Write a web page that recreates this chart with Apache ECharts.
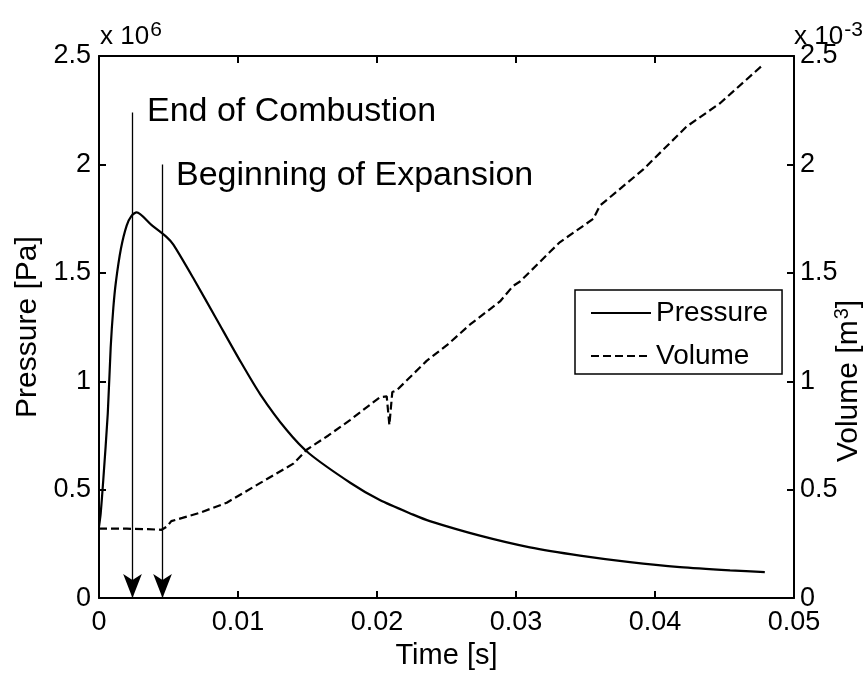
<!DOCTYPE html>
<html>
<head>
<meta charset="utf-8">
<script src="https://cdn.jsdelivr.net/npm/echarts@6/dist/echarts.min.js"></script>
<style>html,body{margin:0;padding:0;background:#fff}#c{width:866px;height:675px}</style>
</head>
<body>
<div id="c"></div>
<script>
// Time [s]
var pressureTime = [0, 0.00012, 0.00031, 0.00063, 0.00084, 0.00103, 0.00122, 0.00158, 0.00199, 0.00235, 0.00271,
  0.00379, 0.00487, 0.00535, 0.00679, 0.00847, 0.0101, 0.0116, 0.0135, 0.0151, 0.0181, 0.0202, 0.0226, 0.0238,
  0.0274, 0.031, 0.0346, 0.0382, 0.0418, 0.0454, 0.0479];
// Pressure [Pa] x 10^6
var pressureE6 = [0.33, 0.39, 0.547, 0.85, 1.155, 1.338, 1.46, 1.612, 1.718, 1.764, 1.779,
  1.72, 1.665, 1.63, 1.475, 1.285, 1.10, 0.94, 0.775, 0.668, 0.531, 0.452, 0.385, 0.355,
  0.288, 0.234, 0.196, 0.166, 0.143, 0.128, 0.120];
// Volume time [s]
var volumeTime = [0, 0.002, 0.0035, 0.0045, 0.0049, 0.0052, 0.006, 0.00727, 0.00919, 0.01158, 0.01398, 0.01494,
  0.0165, 0.01806, 0.02022, 0.0207, 0.02089, 0.0211, 0.02141, 0.02357, 0.0251, 0.0267, 0.02885, 0.0298, 0.03029,
  0.03245, 0.03317, 0.03556, 0.03604, 0.03916, 0.04228, 0.04468, 0.0478];
// Volume [m^3] x 10^-3
var volumeE3 = [0.32, 0.32, 0.318, 0.315, 0.33, 0.355, 0.37, 0.394, 0.44, 0.53, 0.62, 0.684,
  0.75, 0.821, 0.927, 0.93, 0.798, 0.95, 0.958, 1.094, 1.17, 1.262, 1.368, 1.44, 1.46,
  1.597, 1.642, 1.749, 1.81, 1.977, 2.175, 2.282, 2.461];
// Annotation arrows
var arrowTimes = [0.00241, 0.00457];
var arrowTops = [2.24, 2.0];
var arrowLabels = ['End of Combustion', 'Beginning of Expansion'];
var xTicks = {min: 0, max: 0.05, interval: 0.01};
var yTicks = {min: 0, max: 2.5, interval: 0.5};

function zip(a, b) { return a.map(function (v, i) { return [v, b[i]]; }); }

var FONT = '"Liberation Sans", Arial, sans-serif';
var chart = echarts.init(document.getElementById('c'));
var axisCommon = {
  type: 'value',
  axisLine: {show: true, onZero: false, lineStyle: {color: '#000', width: 2}},
  axisTick: {show: true, inside: true, length: 7, lineStyle: {color: '#000', width: 2}},
  splitLine: {show: false},
  axisLabel: {color: '#000', fontSize: 27, fontFamily: FONT}
};
var option = {
  animation: false,
  backgroundColor: '#fff',
  grid: {left: 99, right: 72, top: 56, bottom: 72, containLabel: false},
  xAxis: [
    Object.assign({}, axisCommon, {position: 'bottom', min: xTicks.min, max: xTicks.max, interval: xTicks.interval,
      axisLabel: Object.assign({}, axisCommon.axisLabel, {margin: 11}),
      name: 'Time [s]', nameLocation: 'middle', nameGap: 38,
      nameTextStyle: {color: '#000', fontSize: 29, fontFamily: FONT}}),
    Object.assign({}, axisCommon, {position: 'top', min: xTicks.min, max: xTicks.max, interval: xTicks.interval,
      axisLabel: {show: false}})
  ],
  yAxis: [
    Object.assign({}, axisCommon, {position: 'left', min: yTicks.min, max: yTicks.max, interval: yTicks.interval,
      axisLabel: Object.assign({}, axisCommon.axisLabel, {margin: 8}),
      name: 'Pressure [Pa]', nameLocation: 'middle', nameGap: 56,
      nameTextStyle: {color: '#000', fontSize: 30, fontFamily: FONT}}),
    Object.assign({}, axisCommon, {position: 'right', min: yTicks.min, max: yTicks.max, interval: yTicks.interval,
      axisLabel: Object.assign({}, axisCommon.axisLabel, {margin: 6})})
  ],
  legend: {
    data: ['Pressure', 'Volume'],
    orient: 'vertical', left: 575, top: 290,
    borderColor: '#000', borderWidth: 1.5, backgroundColor: '#fff',
    padding: [9, 14, 4, 15], itemGap: 15, itemWidth: 60, itemHeight: 14,
    itemStyle: {opacity: 0},
    textStyle: {color: '#000', fontSize: 28, fontFamily: FONT}
  },
  series: [
    {name: 'Pressure', type: 'line', xAxisIndex: 0, yAxisIndex: 0, symbol: 'none', smooth: 0.25,
      data: zip(pressureTime, pressureE6), lineStyle: {color: '#000', width: 2.2}, itemStyle: {color: '#000'}, z: 3},
    {name: 'Volume', type: 'line', xAxisIndex: 0, yAxisIndex: 1, symbol: 'none',
      data: zip(volumeTime, volumeE3), lineStyle: {color: '#000', width: 2.2, type: [8, 4]}, itemStyle: {color: '#000'}, z: 3},
    {name: 'arrows', type: 'line', xAxisIndex: 0, yAxisIndex: 0, data: [], silent: true,
      markLine: {
        silent: true, symbol: ['none', 'arrow'], symbolSize: [14, 24],
        label: {show: false},
        lineStyle: {color: '#000', width: 1.3, type: 'solid'},
        emphasis: {disabled: true},
        data: arrowTimes.map(function (t, i) { return [{coord: [t, arrowTops[i]]}, {coord: [t, 0]}]; })
      }}
  ],
  graphic: [
    {type: 'text', left: 147, top: 95, style: {text: arrowLabels[0], font: '34px ' + FONT, fill: '#000'}},
    {type: 'text', left: 176, top: 159, style: {text: arrowLabels[1], font: '34px ' + FONT, fill: '#000'}},
    {type: 'text', x: 100, y: 37, style: {text: 'x 10{s|6}', fontSize: 26, fontFamily: FONT, fill: '#000', verticalAlign: 'middle',
      rich: {s: {fontSize: 21, fontFamily: FONT, verticalAlign: 'top', padding: [0, 0, 14, 1]}}}},
    {type: 'text', x: 794, y: 37, style: {text: 'x 10{s|-3}', fontSize: 26, fontFamily: FONT, fill: '#000', verticalAlign: 'middle',
      rich: {s: {fontSize: 21, fontFamily: FONT, verticalAlign: 'top', padding: [0, 0, 14, 1]}}}},
    {type: 'text', x: 849, y: 381, rotation: Math.PI / 2, style: {text: 'Volume [m{s|3}]', fontSize: 30, fontFamily: FONT, fill: '#000',
      align: 'center', verticalAlign: 'middle',
      rich: {s: {fontSize: 20, fontFamily: FONT, verticalAlign: 'top', padding: [0, 0, 14, 1]}}}}
  ]
};
chart.setOption(option);
</script>
</body>
</html>
